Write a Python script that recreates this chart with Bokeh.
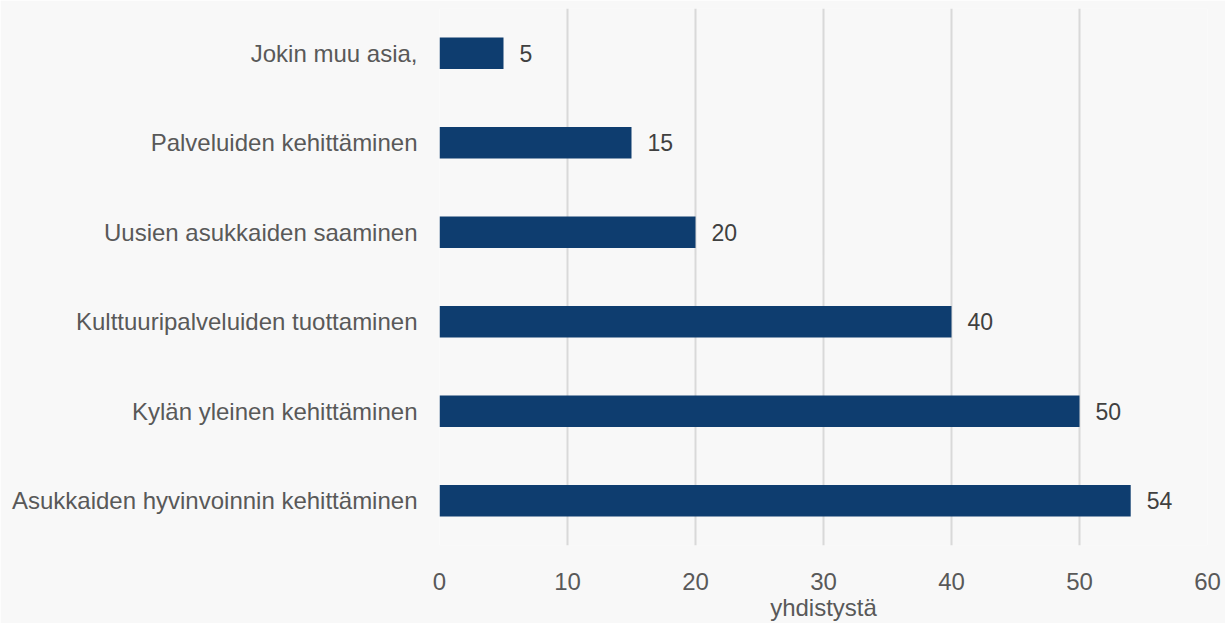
from bokeh.plotting import figure
from bokeh.models import ColumnDataSource, Range1d, FixedTicker
from bokeh.core.properties import value
from bokeh.embed import file_html
from bokeh.resources import INLINE

categories = [
    "Asukkaiden hyvinvoinnin kehittäminen",
    "Kylän yleinen kehittäminen",
    "Kulttuuripalveluiden tuottaminen",
    "Uusien asukkaiden saaminen",
    "Palveluiden kehittäminen",
    "Jokin muu asia,",
]
counts = [54, 50, 40, 20, 15, 5]
x_ticks = [0, 10, 20, 30, 40, 50, 60]
x_title = "yhdistystä"

FONT = "Liberation Sans"
BG = "#f8f8f8"

src = ColumnDataSource(dict(cat=categories, n=counts, lbl=[str(v) for v in counts]))

p = figure(
    y_range=categories,
    x_range=Range1d(0, 60),
    width=1225, height=623,
    output_backend="svg", toolbar_location=None,
    min_border_left=439, min_border_right=18,
    min_border_top=8, min_border_bottom=78,
    background_fill_color=BG, border_fill_color=BG,
    outline_line_color=None,
)

p.hbar(y="cat", right="n", left=0, height=0.35, source=src,
       fill_color="#0e3d6f", line_color=None)

p.text(x="n", y="cat", text="lbl", source=src, x_offset=16,
       text_baseline="middle", text_align="left",
       text_font=value(FONT), text_font_size="23px", text_color="#404040")

p.xaxis.ticker = FixedTicker(ticks=x_ticks)
p.xaxis.axis_label = x_title
p.xaxis.axis_label_text_font = FONT
p.xaxis.axis_label_text_font_style = "normal"
p.xaxis.axis_label_text_font_size = "24px"
p.xaxis.axis_label_text_color = "#595959"
p.xaxis.axis_label_standoff = 1
p.xaxis.major_label_text_font = FONT
p.xaxis.major_label_text_font_size = "24px"
p.xaxis.major_label_text_color = "#595959"
p.xaxis.major_label_standoff = 21
p.xaxis.axis_line_color = None
p.xaxis.major_tick_line_color = None
p.xaxis.minor_tick_line_color = None

p.yaxis.major_label_text_font = FONT
p.yaxis.major_label_text_font_size = "24px"
p.yaxis.major_label_text_color = "#595959"
p.yaxis.major_label_standoff = 16
p.yaxis.axis_line_color = None
p.yaxis.major_tick_line_color = None
p.yaxis.minor_tick_line_color = None

p.xgrid.grid_line_color = "#d9d9d9"
p.xgrid.grid_line_width = 2
p.ygrid.grid_line_color = None

open("out.html", "w").write(file_html(p, INLINE))
